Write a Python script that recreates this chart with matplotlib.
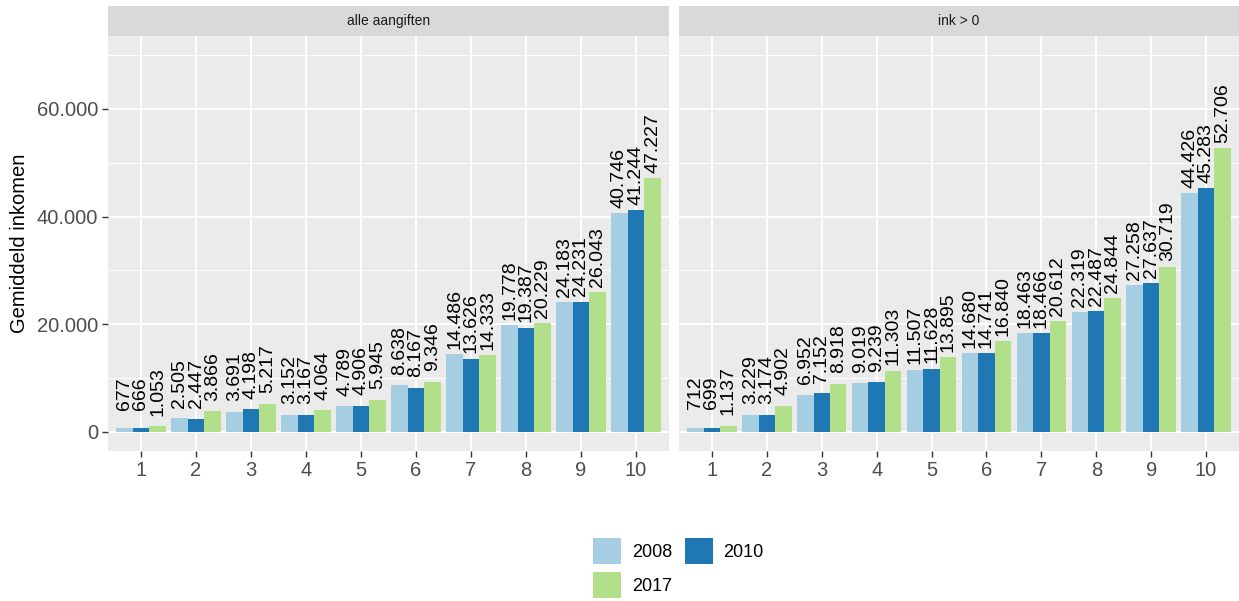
import numpy as np
import matplotlib
matplotlib.use("Agg")
import matplotlib.pyplot as plt
from matplotlib.ticker import MultipleLocator, FuncFormatter

plt.rcParams['font.family'] = ['Liberation Sans', 'DejaVu Sans']

deciles = np.arange(1, 11)
years = ['2008', '2010', '2017']
colors = ['#A6CEE3', '#1F78B4', '#B2DF8A']
facets = ['alle aangiften', 'ink > 0']

alle_2008 = [677, 2505, 3691, 3152, 4789, 8638, 14486, 19778, 24183, 40746]
alle_2010 = [666, 2447, 4198, 3167, 4906, 8167, 13626, 19387, 24231, 41244]
alle_2017 = [1053, 3866, 5217, 4064, 5945, 9346, 14333, 20229, 26043, 47227]

pos_2008 = [712, 3229, 6952, 9019, 11507, 14680, 18463, 22319, 27258, 44426]
pos_2010 = [699, 3174, 7152, 9239, 11628, 14741, 18466, 22487, 27637, 45283]
pos_2017 = [1137, 4902, 8918, 11303, 13895, 16840, 20612, 24844, 30719, 52706]

data = {
    'alle aangiften': [alle_2008, alle_2010, alle_2017],
    'ink > 0': [pos_2008, pos_2010, pos_2017],
}


def dutch(v, pos=None):
    return f"{int(round(v)):,}".replace(',', '.')


W, H = 1239, 601
fig = plt.figure(figsize=(W / 100, H / 100), dpi=100)

panels = [(108, 669), (679, 1239)]
ybot, ytop = 450.8, 36.3
strip_top = 6

bar_w = 0.3
handles = []
for k, (facet, (x0, x1)) in enumerate(zip(facets, panels)):
    ax = fig.add_axes([x0 / W, 1 - ybot / H, (x1 - x0) / W, (ybot - ytop) / H])
    ax.set_facecolor('#EBEBEB')
    for s in ax.spines.values():
        s.set_visible(False)
    ax.set_xlim(0.4, 10.6)
    ax.set_ylim(-3500, 73500)
    ax.yaxis.set_major_locator(MultipleLocator(20000))
    ax.yaxis.set_minor_locator(MultipleLocator(10000))
    ax.xaxis.set_major_locator(MultipleLocator(1))
    ax.grid(which='major', color='white', lw=1.4)
    ax.grid(which='minor', axis='y', color='white', lw=0.7)
    ax.set_axisbelow(True)
    ax.tick_params(which='minor', length=0)
    ax.tick_params(which='major', length=4, width=1, color='#333333',
                   labelcolor='#4D4D4D', labelsize=14.5, pad=3)
    ax.xaxis.set_major_formatter(FuncFormatter(lambda v, p: f"{int(v)}"))
    ax.yaxis.set_major_formatter(FuncFormatter(dutch))
    if k == 1:
        ax.tick_params(axis='y', left=False, labelleft=False)
    else:
        ax.set_ylabel('Gemiddeld inkomen', fontsize=14.5, color='black', labelpad=6)

    for i, (yr, col, vals) in enumerate(zip(years, colors, data[facet])):
        xs = deciles + (i - 1) * bar_w
        b = ax.bar(xs, vals, width=bar_w, color=col, label=yr, linewidth=0)
        if k == 0:
            handles.append(b)
        for x, v in zip(xs, vals):
            ax.text(x, v + 6500, dutch(v), rotation=90, ha='center', va='center',
                    fontsize=14, color='black')

    # facet strip
    sax = fig.add_axes([x0 / W, 1 - ytop / H, (x1 - x0) / W, (ytop - strip_top) / H])
    sax.set_facecolor('#D9D9D9')
    sax.set_xticks([])
    sax.set_yticks([])
    for s in sax.spines.values():
        s.set_visible(False)
    sax.text(0.5, 0.5, facet, ha='center', va='center', fontsize=10,
             color='#1A1A1A', transform=sax.transAxes)

order = [0, 2, 1]
fig.legend([handles[i] for i in order], [years[i] for i in order],
           ncol=2, loc='upper left', bbox_to_anchor=(584 / W, 1 - 529 / H),
           frameon=False, fontsize=13, handlelength=1.55, handleheight=1.85,
           handletextpad=0.6, columnspacing=0.7, labelspacing=0.45, borderpad=0)

fig.savefig('out.png', dpi=100)
